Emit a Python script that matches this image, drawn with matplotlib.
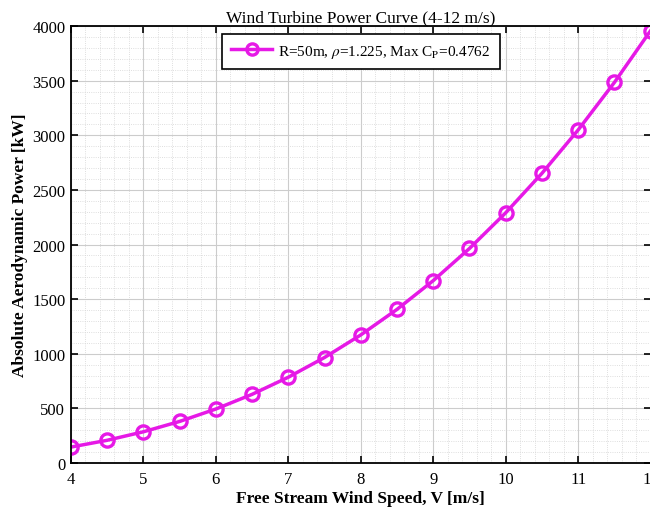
import matplotlib
matplotlib.use("Agg")
import matplotlib.pyplot as plt
from matplotlib.ticker import MultipleLocator

# wind speed [m/s] and power [kW]
wind_speed = [4, 4.5, 5, 5.5, 6, 6.5, 7, 7.5, 8, 8.5, 9, 9.5, 10, 10.5, 11, 11.5, 12]
power_kw = [146.6, 208.7, 286.4, 381.1, 494.8, 629.1, 785.7, 966.4, 1172.9,
            1406.8, 1670.0, 1964.1, 2290.8, 2651.9, 3049.1, 3484.0, 3958.5]
x_ticks = [4, 5, 6, 7, 8, 9, 10, 11, 12]
y_ticks = [0, 500, 1000, 1500, 2000, 2500, 3000, 3500, 4000]

plt.rcParams['font.family'] = ['Liberation Serif', 'DejaVu Serif']
plt.rcParams['mathtext.fontset'] = 'stix'

fig = plt.figure(figsize=(6.5, 5.1), dpi=100)
ax = fig.add_axes([0.109, 0.090, 0.892, 0.857])

ax.plot(wind_speed, power_kw, color='#e619e6', linewidth=2.5, marker='o',
        markersize=9.5, markerfacecolor='none', markeredgewidth=2.4,
        label=r'R=50m, $\rho$=1.225, Max C$_\mathrm{P}$=0.4762')

ax.set_xlim(4, 12)
ax.set_ylim(0, 4000)
ax.set_xticks(x_ticks)
ax.set_yticks(y_ticks)
ax.xaxis.set_minor_locator(MultipleLocator(0.2))
ax.yaxis.set_minor_locator(MultipleLocator(100))
ax.tick_params(which='both', direction='in', top=True, right=True, labelsize=12)
ax.tick_params(which='major', length=5, width=1.2)
ax.tick_params(which='minor', length=0)
ax.tick_params(axis='x', pad=6)
ax.tick_params(axis='y', pad=4)
for s in ax.spines.values():
    s.set_linewidth(1.3)

ax.grid(which='major', color='#cccccc', linewidth=0.8)
ax.grid(which='minor', color='#d4d4d4', linewidth=0.6, linestyle=':')

ax.set_title('Wind Turbine Power Curve (4-12 m/s)', fontsize=12.5, pad=3)
ax.set_xlabel('Free Stream Wind Speed, V [m/s]', fontsize=12.5, fontweight='bold', labelpad=2)
ax.set_ylabel('Absolute Aerodynamic Power [kW]', fontsize=12.5, fontweight='bold', labelpad=3)

leg = ax.legend(loc='upper center', bbox_to_anchor=(0.5, 1.0), fontsize=11,
                fancybox=False, edgecolor='black', framealpha=1, handlelength=2.7,
                handletextpad=0.4, borderpad=0.6, markerscale=0.85)
leg.get_frame().set_linewidth(1.2)

fig.savefig('out.png', dpi=100)
